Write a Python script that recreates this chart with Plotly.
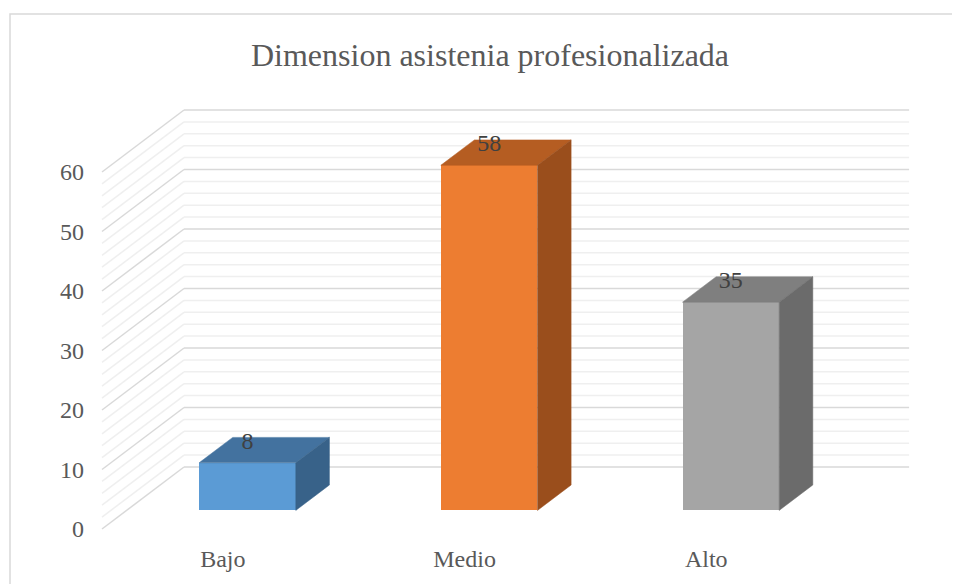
import plotly.graph_objects as go

# ---- data ----
categories = ["Bajo", "Medio", "Alto"]
values = [8, 58, 35]
front_colors = ["#5B9BD5", "#ED7D31", "#A5A5A5"]
top_colors = ["#43729F", "#B55D22", "#7F7F7F"]
side_colors = ["#386289", "#9A4E1C", "#6B6B6B"]
y_tick_values = [0, 10, 20, 30, 40, 50, 60]
y_minor_step = 2
title_text = "Dimension asistenia profesionalizada"

# ---- geometry (pseudo-3D oblique projection) ----
FONT = "Liberation Serif, Times New Roman, serif"
PAGE_OFFSET = 8          # default body margin of the html page
W, H = 960, 584
ML, MR, MT, MB = 92 - PAGE_OFFSET, 20, 90 - PAGE_OFFSET, 584 - (540 - PAGE_OFFSET)
FLOOR_LEFT_PX = 102 - PAGE_OFFSET   # figure pixel x of category origin at front
FLOOR_ZERO_PX = 529 - PAGE_OFFSET   # figure pixel y of value 0 at front
PX_PER_CAT = 241.7
PX_PER_UNIT = 5.95
DEPTH_DX_PX, DEPTH_DY_PX = 82, 62
DX = DEPTH_DX_PX / PX_PER_CAT      # depth shift in x data units
DY = DEPTH_DY_PX / PX_PER_UNIT     # depth shift in y data units
D_FRONT, D_BACK = 0.30, 0.71
BAR_W = 0.4
LABEL_GAP = 20 / PX_PER_UNIT

x_range = [(ML - FLOOR_LEFT_PX) / PX_PER_CAT, (W - MR - FLOOR_LEFT_PX) / PX_PER_CAT]
y_range = [(FLOOR_ZERO_PX - (H - MB)) / PX_PER_UNIT, (FLOOR_ZERO_PX - MT) / PX_PER_UNIT]
n = len(categories)
y_max = max(y_tick_values)
PLOT_W = W - ML - MR
PLOT_H = H - MT - MB


def P(x, v, d):
    return x + d * DX, v + d * DY


fig = go.Figure()
shapes = []

# gridlines on side wall and back wall
for v in range(0, y_max + 1, y_minor_step):
    major = v % 10 == 0
    col = "#D9D9D9" if major else "#EFEFEF"
    x0, y0 = P(0, v, 0)
    x1, y1 = P(0, v, 1)
    x2, y2 = P(n, v, 1)
    shapes.append(dict(type="line", xref="x", yref="y", x0=x0, y0=y0, x1=x1, y1=y1,
                       line=dict(color=col, width=1.5), layer="below"))
    shapes.append(dict(type="line", xref="x", yref="y", x0=x1, y0=y1, x1=x2, y1=y2,
                       line=dict(color=col, width=1.5), layer="below"))

# chart border
shapes.append(dict(type="rect", xref="paper", yref="paper",
                   x0=(10 - PAGE_OFFSET - ML) / PLOT_W, x1=1.2,
                   y0=-0.3, y1=((H - MB) - (14 - PAGE_OFFSET)) / PLOT_H,
                   line=dict(color="#D9D9D9", width=1.5), fillcolor="rgba(0,0,0,0)",
                   layer="below"))

# front faces as bars
fx = [i + 0.5 + D_FRONT * DX for i in range(n)]
fig.add_trace(go.Bar(
    x=fx, y=values, base=[D_FRONT * DY] * n, width=BAR_W,
    marker=dict(color=front_colors, line=dict(width=0)),
    hoverinfo="skip", showlegend=False,
))

# top and side faces
for i, v in enumerate(values):
    xl = i + 0.5 - BAR_W / 2
    xr = i + 0.5 + BAR_W / 2
    top = [P(xl, v, D_FRONT), P(xr, v, D_FRONT), P(xr, v, D_BACK), P(xl, v, D_BACK), P(xl, v, D_FRONT)]
    side = [P(xr, 0, D_FRONT), P(xr, v, D_FRONT), P(xr, v, D_BACK), P(xr, 0, D_BACK), P(xr, 0, D_FRONT)]
    for poly, col in ((top, top_colors[i]), (side, side_colors[i])):
        fig.add_trace(go.Scatter(
            x=[p[0] for p in poly], y=[p[1] for p in poly],
            mode="lines", fill="toself", fillcolor=col,
            line=dict(color=col, width=0.5), hoverinfo="skip", showlegend=False,
        ))

# data labels
fig.add_trace(go.Scatter(
    x=fx, y=[v + D_FRONT * DY + LABEL_GAP for v in values],
    mode="text", text=[str(v) for v in values], textposition="middle center",
    textfont=dict(family=FONT, size=24, color="#404040"),
    hoverinfo="skip", showlegend=False, cliponaxis=False,
))

fig.update_layout(
    width=W, height=H,
    margin=dict(l=ML, r=MR, t=MT, b=MB),
    paper_bgcolor="white", plot_bgcolor="white",
    font=dict(family=FONT, color="#595959"),
    title=dict(text=title_text, x=(490 - PAGE_OFFSET) / W, xanchor="center",
               y=1 - (55 - PAGE_OFFSET) / H, yanchor="middle", yref="container",
               font=dict(family=FONT, size=32, color="#595959")),
    xaxis=dict(range=x_range, tickvals=[i + 0.5 for i in range(n)], ticktext=categories,
               showgrid=False, zeroline=False, showline=False, ticks="",
               tickfont=dict(family=FONT, size=24, color="#595959"), ticklabelstandoff=2),
    yaxis=dict(range=y_range, tickvals=y_tick_values,
               showgrid=False, zeroline=False, showline=False, ticks="",
               tickfont=dict(family=FONT, size=24, color="#595959"), ticklabelstandoff=7),
    shapes=shapes,
    showlegend=False,
    bargap=0,
)

fig.write_html("out.html")
